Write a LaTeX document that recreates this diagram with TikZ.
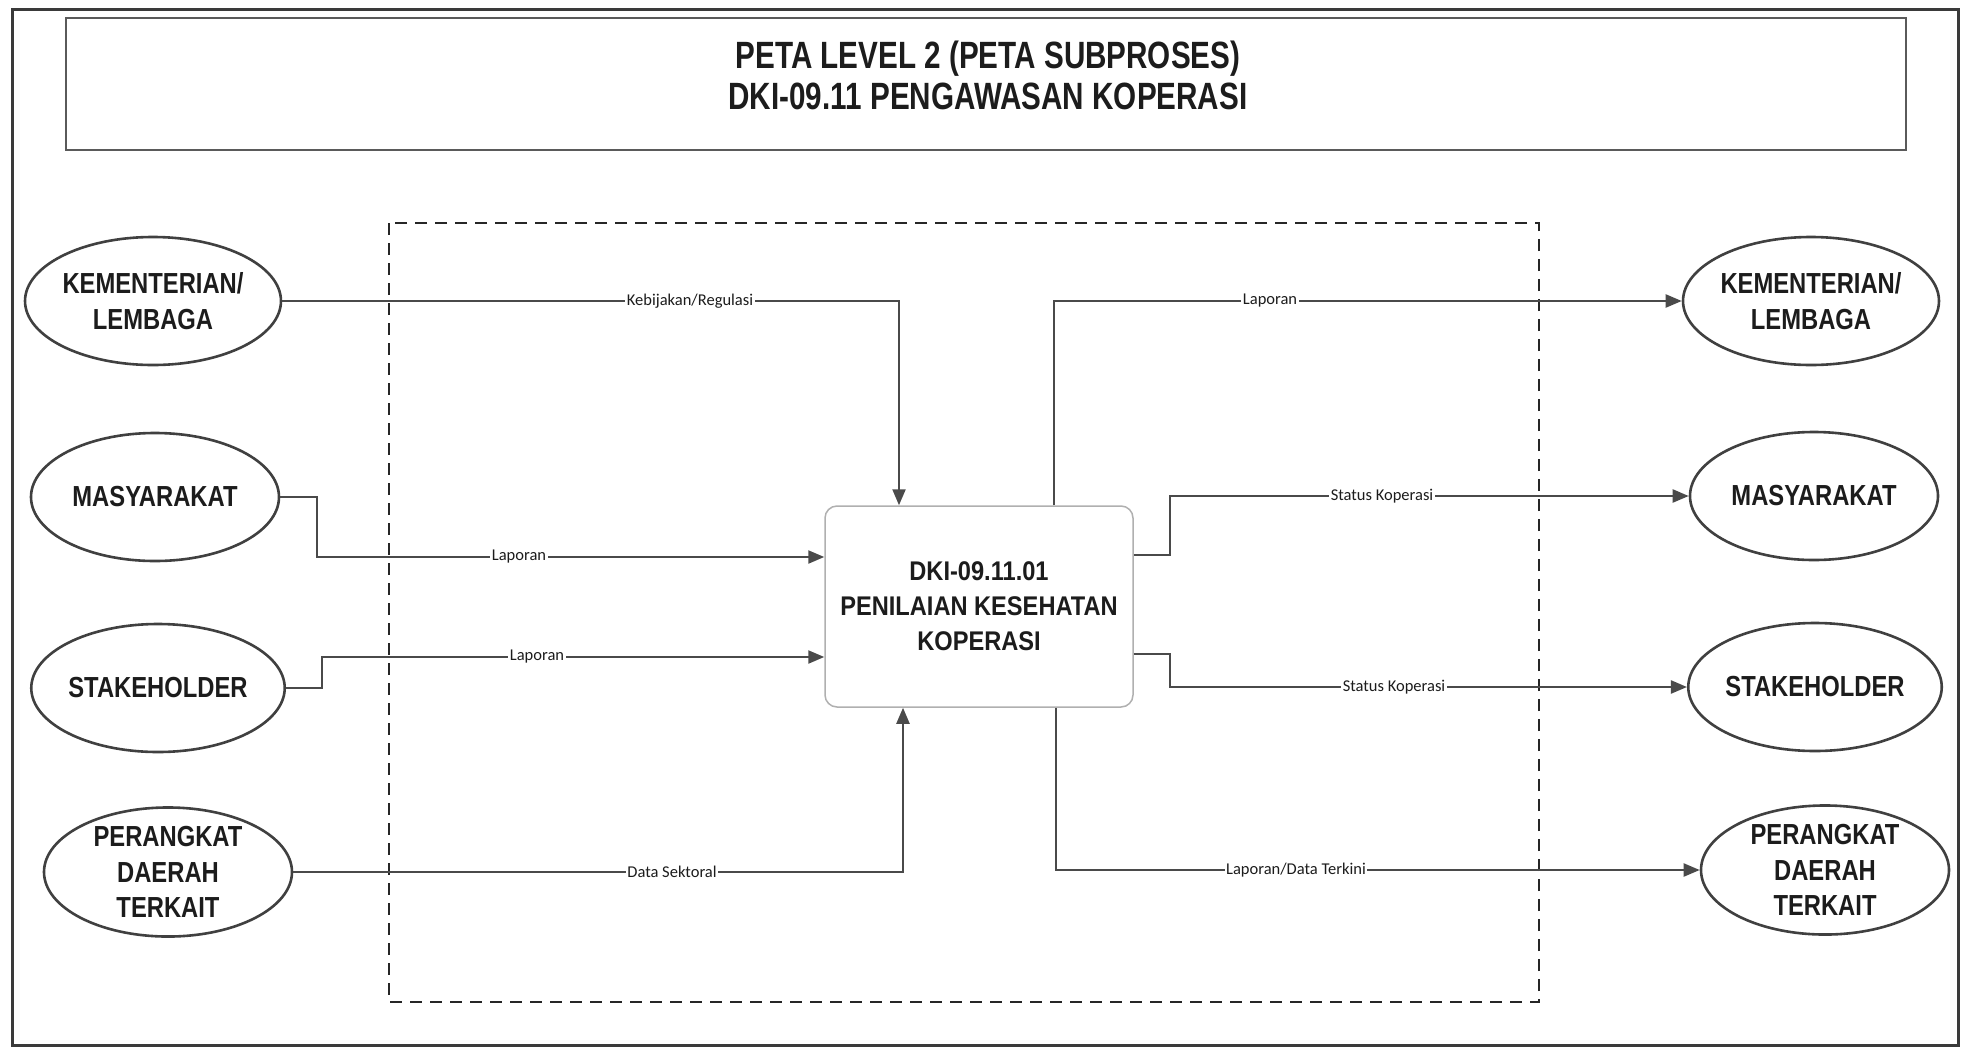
\documentclass[tikz,border=0pt]{standalone}
\usepackage{fontspec}
\usetikzlibrary{arrows.meta,shapes.geometric}
\setmainfont{Liberation Sans}
\newfontfamily\titlefont[FakeStretch=0.78]{Liberation Sans}
\newfontfamily\entfont[FakeStretch=0.82]{Liberation Sans}
\newfontfamily\procfont[FakeStretch=0.875]{Liberation Sans}
\newfontfamily\lblfont{Carlito}
\definecolor{linegray}{HTML}{4A4A4A}
\definecolor{entgray}{HTML}{404040}
\definecolor{framegray}{HTML}{3A3A3A}
\definecolor{titlegray}{HTML}{5A5A5A}
\definecolor{procgray}{HTML}{B0B0B0}
\definecolor{textblack}{HTML}{1C1C1C}
\begin{document}
\begin{tikzpicture}[x=1pt,y=-1pt,
  entity/.style={ellipse, draw=entgray, line width=2.6pt, minimum width=248pt,
    minimum height=128pt, inner sep=0pt, align=center, text=textblack,
    font=\entfont\bfseries\fontsize{29}{35.5}\selectfont},
  procbox/.style={rectangle, rounded corners=12pt, draw=procgray, line width=1.5pt,
    fill=white, minimum width=308pt, minimum height=201pt, align=center, text=textblack,
    font=\procfont\bfseries\fontsize{27}{35}\selectfont},
  conn/.style={draw=linegray, line width=2.2pt, -{Triangle[length=16pt,width=13pt]}},
  lbl/.style={fill=white, inner sep=1.5pt, text=textblack,
    font=\lblfont\fontsize{16.5}{18}\selectfont},
  frameline/.style={draw=framegray, line width=3pt},
  titleline/.style={draw=titlegray, line width=2pt},
  boundary/.style={draw=black!85, line width=1.6pt, dash pattern=on 12pt off 8pt}]

\fill[white] (0,0) rectangle (1962,1050);
\useasboundingbox (0,0) rectangle (1962,1050);

% frames
\draw[frameline] (12,9) rectangle (1958,1045);
\draw[titleline] (66,18) rectangle (1906,150);
\node[align=center, text=textblack, font=\titlefont\bfseries\fontsize{38}{41}\selectfont]
  (title) at (988,75) {PETA LEVEL 2 (PETA SUBPROSES)\\DKI-09.11 PENGAWASAN KOPERASI};

% subprocess boundary
\draw[boundary] (389,223) rectangle (1539,1002);

% entities left
\node[entity] (lk) at (153,301) {KEMENTERIAN/\\LEMBAGA};
\node[entity] (lm) at (155,497) {MASYARAKAT};
\node[entity] (ls) at (158,688) {STAKEHOLDER};
\node[entity] (lp) at (168,872) {PERANGKAT\\DAERAH\\TERKAIT};

% entities right
\node[entity] (rk) at (1811,301) {KEMENTERIAN/\\LEMBAGA};
\node[entity] (rm) at (1814,496) {MASYARAKAT};
\node[entity] (rs) at (1815,687) {STAKEHOLDER};
\node[entity] (rp) at (1825,870) {PERANGKAT\\DAERAH\\TERKAIT};

% process
\node[procbox] (proc) at (979,606.5) {DKI-09.11.01\\PENILAIAN KESEHATAN\\KOPERASI};

% inputs
\draw[conn] (lk.east) -| (899,0 |- proc.north);
\draw[conn] (lm.east) -- ++(37,0) |- (proc.west |- 0,557);
\draw[conn] (ls.east) -- ++(36,0) |- (proc.west |- 0,657);
\draw[conn] (lp.east) -| (903,0 |- proc.south);

% outputs
\draw[conn] (1054,0 |- proc.north) |- (rk.west);
\draw[conn] (proc.east |- 0,555) -- ++(36,0) |- (rm.west);
\draw[conn] (proc.east |- 0,654) -- ++(36,0) |- (rs.west);
\draw[conn] (1056,0 |- proc.south) |- (rp.west);

% labels
\node[lbl] (l1) at (690,301) {Kebijakan/Regulasi};
\node[lbl] (l2) at (519,557) {Laporan};
\node[lbl] (l3) at (537,657) {Laporan};
\node[lbl] (l4) at (672,872) {Data Sektoral};
\node[lbl] (l5) at (1270,301) {Laporan};
\node[lbl] (l6) at (1382,496) {Status Koperasi};
\node[lbl] (l7) at (1394,687) {Status Koperasi};
\node[lbl] (l8) at (1296,870) {Laporan/Data Terkini};
\end{tikzpicture}
\end{document}
